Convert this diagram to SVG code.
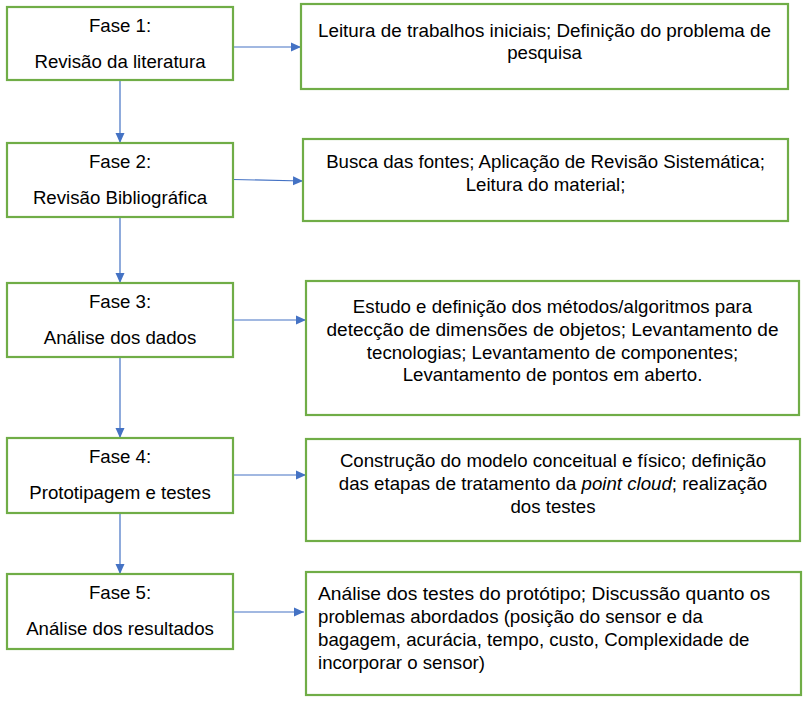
<svg xmlns="http://www.w3.org/2000/svg" width="812" height="701" viewBox="0 0 812 701">
<style>
.box{fill:#fff;stroke:#70AD47;stroke-width:2.2}
.t{font-family:"Liberation Sans",Arial,sans-serif;font-size:18.67px;fill:#000}
.c{text-anchor:middle}
.con{stroke:#4472C4;stroke-width:1.2;fill:none;marker-end:url(#ah)}
</style>
<defs>
<marker id="ah" markerUnits="userSpaceOnUse" markerWidth="10" markerHeight="10" viewBox="0 0 10 10" refX="10" refY="5" orient="auto">
<path d="M0,0.5 L10,5 L0,9.5 z" fill="#4472C4"/>
</marker>
</defs>
<rect width="812" height="701" fill="#fff"/>
<g id="connectors">
<line class="con" x1="233" y1="47" x2="301" y2="47"/>
<line class="con" x1="233" y1="179.5" x2="303" y2="181"/>
<line class="con" x1="233" y1="320" x2="306" y2="320"/>
<line class="con" x1="233" y1="475" x2="306" y2="475"/>
<line class="con" x1="233" y1="612" x2="304" y2="612"/>
<line class="con" x1="120" y1="80" x2="120" y2="143"/>
<line class="con" x1="120" y1="217" x2="120" y2="283"/>
<line class="con" x1="120" y1="357" x2="120" y2="438"/>
<line class="con" x1="120" y1="513" x2="120" y2="574"/>
</g>
<g id="fase1">
<rect class="box" x="7" y="7" width="226" height="73"/>
<text class="t c" x="120" y="31.5">Fase 1:</text>
<text class="t c" x="120" y="68">Revisão da literatura</text>
</g>
<g id="desc1">
<rect class="box" x="301" y="4" width="487" height="85"/>
<text class="t c" x="544.5" y="36.5" textLength="453" lengthAdjust="spacingAndGlyphs">Leitura de trabalhos iniciais; Definição do problema de</text>
<text class="t c" x="544.5" y="59">pesquisa</text>
</g>
<g id="fase2">
<rect class="box" x="7" y="143" width="226" height="74"/>
<text class="t c" x="120" y="167.5">Fase 2:</text>
<text class="t c" x="120" y="204">Revisão Bibliográfica</text>
</g>
<g id="desc2">
<rect class="box" x="303" y="139" width="485" height="82"/>
<text class="t c" x="545.5" y="168">Busca das fontes; Aplicação de Revisão Sistemática;</text>
<text class="t c" x="545.5" y="191">Leitura do material;</text>
</g>
<g id="fase3">
<rect class="box" x="7" y="283" width="226" height="74"/>
<text class="t c" x="120" y="307.5">Fase 3:</text>
<text class="t c" x="120" y="344">Análise dos dados</text>
</g>
<g id="desc3">
<rect class="box" x="306" y="281" width="493" height="134"/>
<text class="t c" x="552.5" y="313">Estudo e definição dos métodos/algoritmos para</text>
<text class="t c" x="552.5" y="336" textLength="452" lengthAdjust="spacingAndGlyphs">detecção de dimensões de objetos; Levantamento de</text>
<text class="t c" x="552.5" y="358.5">tecnologias; Levantamento de componentes;</text>
<text class="t c" x="552.5" y="381">Levantamento de pontos em aberto.</text>
</g>
<g id="fase4">
<rect class="box" x="7" y="438" width="226" height="75"/>
<text class="t c" x="120" y="462.5">Fase 4:</text>
<text class="t c" x="120" y="499">Prototipagem e testes</text>
</g>
<g id="desc4">
<rect class="box" x="306" y="439" width="494" height="102"/>
<text class="t c" x="553" y="467">Construção do modelo conceitual e físico; definição</text>
<text class="t c" x="553" y="490">das etapas de tratamento da <tspan font-style="italic">point cloud</tspan>; realização</text>
<text class="t c" x="553" y="513">dos testes</text>
</g>
<g id="fase5">
<rect class="box" x="7" y="574" width="226" height="75"/>
<text class="t c" x="120" y="598.5">Fase 5:</text>
<text class="t c" x="120" y="635">Análise dos resultados</text>
</g>
<g id="desc5">
<rect class="box" x="306" y="572" width="495" height="123"/>
<text class="t" x="318" y="599.5" textLength="452" lengthAdjust="spacingAndGlyphs">Análise dos testes do protótipo; Discussão quanto os</text>
<text class="t" x="318" y="622.5">problemas abordados (posição do sensor e da</text>
<text class="t" x="318" y="646">bagagem, acurácia, tempo, custo, Complexidade de</text>
<text class="t" x="318" y="669">incorporar o sensor)</text>
</g>
</svg>
